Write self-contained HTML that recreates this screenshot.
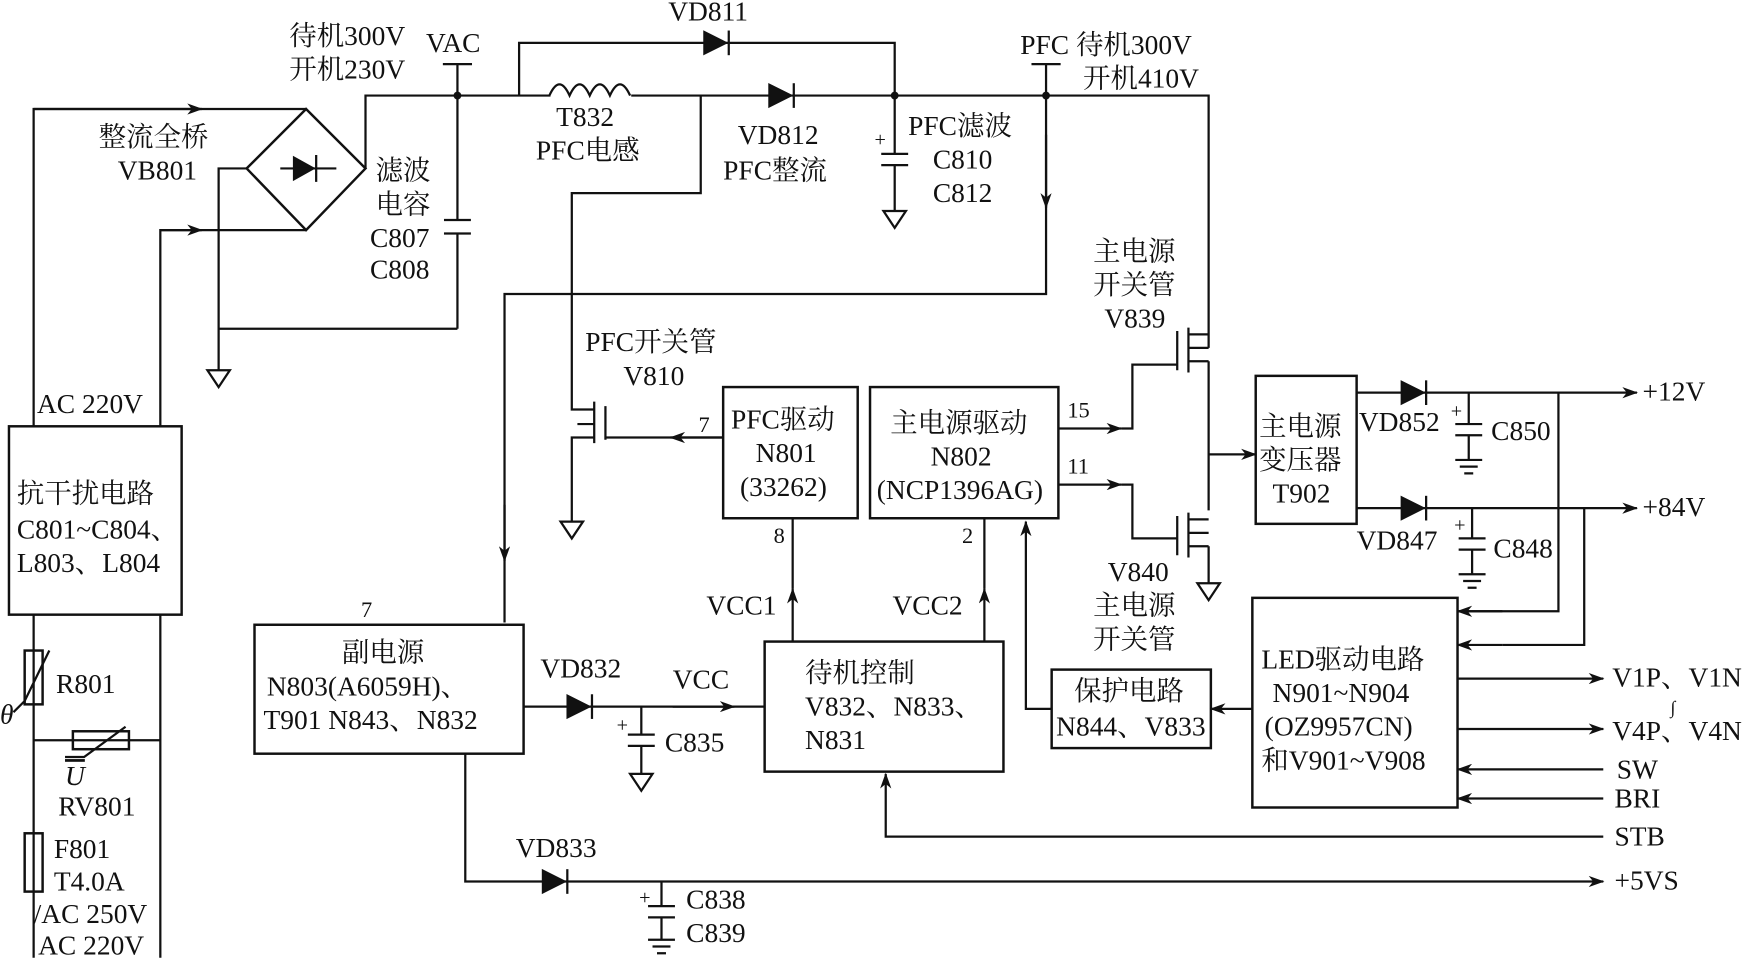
<!DOCTYPE html>
<html><head><meta charset="utf-8"><style>
html,body{margin:0;padding:0;background:#fff;}
svg{display:block}
text{font-family:"Liberation Serif","Noto Serif CJK SC",serif;font-size:24.5px;fill:#111}
.l{stroke:#111;stroke-width:2;fill:none}
.b{stroke:#111;stroke-width:2.2;fill:none}
.f{fill:#111;stroke:#111;stroke-width:1.5}
</style></head><body>
<svg width="1758" height="958" viewBox="0 0 1568 854" xmlns="http://www.w3.org/2000/svg">
<defs>
<marker id="a" markerWidth="14" markerHeight="10" refX="13" refY="5" orient="auto" markerUnits="userSpaceOnUse"><path d="M0,0 L14,5 L0,10 L4,5 Z" fill="#111"/></marker>
</defs>
<path class="l" d="M30,380 V97 H273"/>
<path class="l" d="M30,97 H180" marker-end="url(#a)"/>
<path class="l" d="M143,380 V205 H273"/>
<path class="l" d="M143,205 H180" marker-end="url(#a)"/>
<path class="b" d="M273,97 L220,150 L273,205 L326,150 Z"/>
<path class="f" d="M262,140 L262,160 L280,150 Z"/><path class="l" d="M282,138 V162 M250,150 H300"/>
<path class="l" d="M220,150 H195 V330"/>
<path class="l" d="M195,293 H408"/>
<path class="l" d="M185,330 H205 L195,345 Z"/>
<path class="l" d="M326,150 V85 H1078 V310"/>
<circle cx="408" cy="85" r="3.5" fill="#111"/>
<path class="l" d="M408,85 V57 M395,57 H421"/>
<path class="l" d="M408,85 V196 M396,196 H420 M396,208 H420 M408,208 V293"/>
<path class="l" d="M463,85 V38 H798 V85"/>
<path class="f" d="M628,28 L628,48 L648,38 Z"/><path class="l" d="M650,27 V49"/>
<rect x="491" y="82" width="72" height="6" fill="#fff"/>
<path class="l" d="M490,85 q9,-20 18,0 q9,-20 18,0 q9,-20 18,0 q9,-20 18,0"/>
<path class="f" d="M686,75 L686,95 L706,85 Z"/><path class="l" d="M708,74 V96"/>
<circle cx="798" cy="85" r="3.5" fill="#111"/>
<path class="l" d="M798,85 V137 M786,137 H810 M786,147 H810 M798,147 V188"/>
<path class="l" d="M788,188 H808 L798,203 Z"/>
<text x="780" y="130" style="font-size:18px">+</text>
<circle cx="933" cy="85" r="3.5" fill="#111"/>
<path class="l" d="M933,85 V57 M920,57 H946"/>
<path class="l" d="M933,85 V262 H450 V555"/>
<path class="l" d="M933,120 V185" marker-end="url(#a)"/>
<path class="l" d="M450,450 V500" marker-end="url(#a)"/>
<path class="l" d="M625,85 V172 H510 V365 H530"/>
<path class="l" d="M530,358 V395 M540,362 V392 M540,390 H645"/>
<path class="l" d="M645,390 H598" marker-end="url(#a)"/>
<path class="l" d="M530,378 H515 M530,390 H510 V465"/>
<path class="l" d="M500,465 H520 L510,480 Z"/>
<rect class="b" x="8" y="380" width="154" height="168"/>
<rect class="b" x="227" y="557" width="240" height="115"/>
<rect class="b" x="645" y="345" width="120" height="117"/>
<rect class="b" x="776" y="345" width="168" height="117"/>
<rect class="b" x="682" y="572" width="213" height="116"/>
<rect class="b" x="938" y="597" width="142" height="70"/>
<rect class="b" x="1120" y="335" width="90" height="132"/>
<rect class="b" x="1117" y="533" width="183" height="187"/>
<path class="l" d="M30,548 V854 M143,548 V854"/>
<rect class="b" x="22" y="580" width="16" height="48" fill="#fff"/>
<path class="l" d="M12,635 L22,625 L44,580"/>
<path class="l" d="M30,660 H143"/>
<rect class="b" x="65" y="652" width="50" height="16" fill="#fff"/>
<path class="l" d="M58,675 L75,675 L112,648"/>
<rect class="b" x="22" y="743" width="16" height="52" fill="#fff"/>
<path class="l" d="M944,382 H1000" marker-end="url(#a)"/>
<path class="l" d="M1000,382 H1010 V325 H1050"/>
<path class="l" d="M944,432 H1000" marker-end="url(#a)"/>
<path class="l" d="M1000,432 H1010 V480 H1050"/>
<path class="l" d="M1050,295 V330 M1060,292 V332 M1060,298 H1078 M1060,322 H1078 M1060,310 H1078 M1078,322 V455"/>
<path class="l" d="M1050,460 V495 M1060,457 V497 M1060,463 H1078 M1060,487 H1078 M1060,475 H1078 M1078,487 V520"/>
<path class="l" d="M1068,520 H1088 L1078,535 Z"/>
<path class="l" d="M1078,405 H1120" marker-end="url(#a)"/>
<path class="l" d="M1210,350 H1460" marker-end="url(#a)"/>
<path class="f" d="M1250,340 L1250,360 L1270,350 Z"/><path class="l" d="M1272,339 V361"/>
<path class="l" d="M1310,350 V378 M1298,378 H1322 M1298,388 H1322 M1310,388 V410 M1298,410 H1322 M1302,416 H1318 M1306,422 H1314"/>
<text x="1294" y="372" style="font-size:18px">+</text>
<path class="l" d="M1390,350 V545 H1300"/>
<path class="l" d="M1340,545 H1300" marker-end="url(#a)"/>
<path class="l" d="M1210,453 H1460" marker-end="url(#a)"/>
<path class="f" d="M1250,443 L1250,463 L1270,453 Z"/><path class="l" d="M1272,442 V464"/>
<path class="l" d="M1313,453 V480 M1301,480 H1325 M1301,490 H1325 M1313,490 V512 M1301,512 H1325 M1305,518 H1321 M1309,524 H1317"/>
<text x="1297" y="474" style="font-size:18px">+</text>
<path class="l" d="M1413,453 V575 H1340"/>
<path class="l" d="M1340,575 H1300" marker-end="url(#a)"/>
<path class="l" d="M1300,605 H1430" marker-end="url(#a)"/>
<path class="l" d="M1300,650 H1430" marker-end="url(#a)"/>
<path class="l" d="M1430,686 H1300" marker-end="url(#a)"/>
<path class="l" d="M1430,712 H1300" marker-end="url(#a)"/>
<path class="l" d="M1430,746 H790 V690" marker-end="url(#a)"/>
<path class="l" d="M1117,632 H1080" marker-end="url(#a)"/>
<path class="l" d="M938,632 H915 V465" marker-end="url(#a)"/>
<path class="l" d="M707,572 V525" marker-end="url(#a)"/>
<path class="l" d="M707,525 V462"/>
<path class="l" d="M878,572 V525" marker-end="url(#a)"/>
<path class="l" d="M878,525 V462"/>
<path class="l" d="M467,630 H682"/>
<path class="l" d="M600,630 H655" marker-end="url(#a)"/>
<path class="f" d="M506,620 L506,640 L526,630 Z"/><path class="l" d="M528,619 V641"/>
<path class="l" d="M572,630 V655 M560,655 H584 M560,665 H584 M572,665 V690"/>
<path class="l" d="M562,690 H582 L572,705 Z"/>
<text x="550" y="652" style="font-size:18px">+</text>
<path class="l" d="M415,672 V786 H1430" marker-end="url(#a)"/>
<path class="f" d="M484,776 L484,796 L504,786 Z"/><path class="l" d="M506,775 V797"/>
<path class="l" d="M590,786 V808 M578,808 H602 M578,818 H602 M590,818 V838 M578,838 H602 M582,844 H598 M586,850 H594"/>
<text x="570" y="806" style="font-size:18px">+</text>
<text x="258" y="40">待机300V</text><text x="258" y="70">开机230V</text>
<text x="380" y="46">VAC</text>
<text x="596" y="18">VD811</text>
<text x="496" y="112">T832</text><text x="478" y="142">PFC电感</text>
<text x="658" y="128">VD812</text><text x="645" y="160">PFC整流</text>
<text x="810" y="120">PFC滤波</text><text x="832" y="150">C810</text><text x="832" y="180">C812</text>
<text x="910" y="48">PFC 待机300V</text><text x="966" y="78">开机410V</text>
<text x="88" y="130">整流全桥</text><text x="105" y="160">VB801</text>
<text x="335" y="160">滤波</text><text x="335" y="190">电容</text>
<text x="330" y="220">C807</text><text x="330" y="248">C808</text>
<text x="975" y="232">主电源</text><text x="975" y="262">开关管</text><text x="985" y="292">V839</text>
<text x="522" y="313">PFC开关管</text><text x="556" y="343">V810</text>
<text x="33" y="368">AC 220V</text>
<text x="15" y="448">抗干扰电路</text><text x="15" y="480">C801~C804、</text><text x="15" y="510">L803、L804</text>
<text x="623" y="385" style="font-size:20px">7</text>
<text x="652" y="382">PFC驱动</text><text x="674" y="412">N801</text><text x="660" y="442">(33262)</text>
<text x="690" y="484" style="font-size:20px">8</text>
<text x="794" y="385">主电源驱动</text><text x="830" y="415">N802</text><text x="782" y="445">(NCP1396AG)</text>
<text x="858" y="484" style="font-size:20px">2</text>
<text x="952" y="372" style="font-size:20px">15</text><text x="952" y="422" style="font-size:20px">11</text>
<text x="1123" y="388">主电源</text><text x="1123" y="418">变压器</text><text x="1135" y="448">T902</text>
<text x="1212" y="384">VD852</text><text x="1330" y="392">C850</text>
<text x="1465" y="357">+12V</text><text x="1465" y="460">+84V</text>
<text x="1210" y="490">VD847</text><text x="1332" y="497">C848</text>
<text x="988" y="518">V840</text><text x="975" y="548">主电源</text><text x="975" y="578">开关管</text>
<text x="322" y="550" style="font-size:20px">7</text>
<text x="305" y="590">副电源</text><text x="238" y="620">N803(A6059H)、</text><text x="235" y="650">T901  N843、N832</text>
<text x="482" y="604">VD832</text><text x="600" y="614">VCC</text><text x="593" y="670">C835</text>
<text x="630" y="548">VCC1</text><text x="796" y="548">VCC2</text>
<text x="718" y="608">待机控制</text><text x="718" y="638">V832、N833、</text><text x="718" y="668">N831</text>
<text x="958" y="624">保护电路</text><text x="942" y="656">N844、V833</text>
<text x="1125" y="596">LED驱动电路</text><text x="1135" y="626">N901~N904</text><text x="1128" y="656">(OZ9957CN)</text><text x="1125" y="686">和V901~V908</text>
<text x="1438" y="612">V1P、V1N</text><text x="1438" y="660">V4P、V4N</text><text x="1490" y="636" style="font-size:16px">∫</text>
<text x="1442" y="694">SW</text><text x="1440" y="720">BRI</text><text x="1440" y="754">STB</text><text x="1440" y="793">+5VS</text>
<text x="460" y="764">VD833</text><text x="612" y="810">C838</text><text x="612" y="840">C839</text>
<text x="50" y="618">R801</text><text x="0" y="645" style="font-style:italic">θ</text>
<text x="58" y="700" style="font-style:italic;text-decoration:overline">U</text><text x="52" y="727">RV801</text>
<text x="48" y="765">F801</text><text x="48" y="794">T4.0A</text><text x="30" y="823">/AC 250V</text><text x="34" y="851">AC 220V</text>
</svg>
</body></html>
